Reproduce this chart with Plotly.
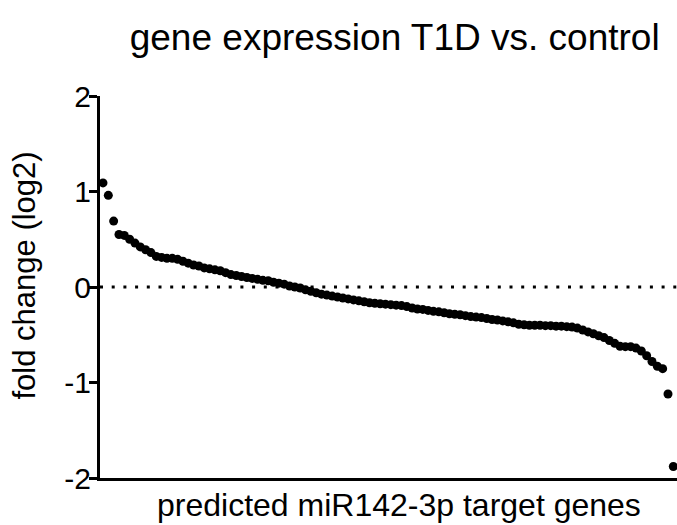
import plotly.graph_objects as go

title_text = "gene expression T1D vs. control"
x_title = "predicted miR142-3p target genes"
y_title = "fold change (log2)"
y_ticks = [-2, -1, 0, 1, 2]

fold_change = [
    1.09, 0.96, 0.69, 0.55, 0.54, 0.50, 0.46, 0.42, 0.39, 0.36,
    0.32, 0.31, 0.30, 0.30, 0.29, 0.27, 0.25, 0.23, 0.22, 0.20,
    0.19, 0.18, 0.17, 0.15, 0.13, 0.12, 0.11, 0.10, 0.09, 0.08,
    0.07, 0.065, 0.05, 0.04, 0.03, 0.01, 0.0, -0.01, -0.03, -0.045,
    -0.06, -0.075, -0.085, -0.095, -0.105, -0.115, -0.125, -0.135, -0.145, -0.155,
    -0.165, -0.17, -0.175, -0.18, -0.185, -0.19, -0.195, -0.205, -0.22, -0.23,
    -0.235, -0.245, -0.255, -0.26, -0.27, -0.28, -0.285, -0.29, -0.30, -0.31,
    -0.315, -0.32, -0.33, -0.34, -0.345, -0.355, -0.365, -0.375, -0.39, -0.395,
    -0.40, -0.40, -0.40, -0.405, -0.405, -0.41, -0.41, -0.415, -0.42, -0.43,
    -0.45, -0.47, -0.49, -0.51, -0.53, -0.56, -0.59, -0.62, -0.625, -0.625,
    -0.64, -0.67, -0.72, -0.78, -0.83, -0.855, -1.12, -1.88,
]
gene_index = list(range(1, len(fold_change) + 1))

FONT = "Liberation Sans, Arial, sans-serif"

fig = go.Figure()
fig.add_trace(go.Scatter(
    x=gene_index, y=fold_change, mode="markers",
    marker=dict(color="black", size=9, line=dict(width=0)),
    cliponaxis=False, showlegend=False,
))
fig.add_hline(y=0, line=dict(color="black", width=3, dash="3px,8.7px"), layer="below")

fig.update_layout(
    width=677, height=525,
    margin=dict(l=100, r=0, t=96, b=47),
    plot_bgcolor="white", paper_bgcolor="white",
    font=dict(family=FONT, color="black"),
    title=dict(text=title_text, x=0.583, xanchor="center", y=0.93, yanchor="middle",
               font=dict(size=37, family=FONT, color="black")),
)
fig.add_annotation(
    text=y_title, textangle=-90, xref="paper", yref="paper",
    x=-0.13, y=0.53, xanchor="center", yanchor="middle", showarrow=False,
    font=dict(size=31, family=FONT, color="black"),
)
fig.add_annotation(
    text=x_title, xref="paper", yref="paper",
    x=0.5185, y=-0.07, xanchor="center", yanchor="middle", showarrow=False,
    font=dict(size=32, family=FONT, color="black"),
)
fig.update_xaxes(
    range=[0.44, 108.69], showgrid=False, zeroline=False,
    showline=True, linecolor="black", linewidth=3,
    showticklabels=False, ticks="",
)
fig.update_yaxes(
    range=[-2, 2], tickvals=y_ticks, ticktext=[str(v) for v in y_ticks],
    showgrid=False, zeroline=False,
    showline=True, linecolor="black", linewidth=3,
    ticks="outside", ticklen=8, tickwidth=2.5, tickcolor="black",
    tickfont=dict(size=30, family=FONT), ticklabelstandoff=-8,
)

fig.write_html("out.html")
